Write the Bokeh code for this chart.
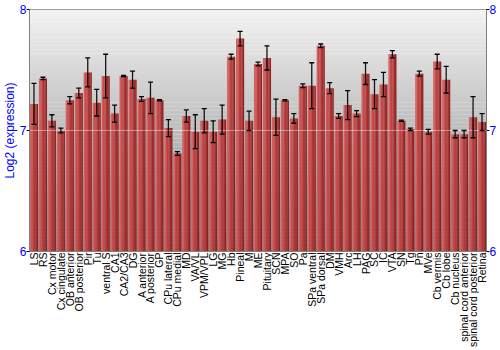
import math
import numpy as np
from bokeh.plotting import figure
from bokeh.models import (ColumnDataSource, Whisker, TeeHead, LinearAxis, Span, FixedTicker,
                          Range1d, Title)
from bokeh.transform import dodge
from bokeh.embed import file_html
from bokeh.resources import INLINE

regions = ["LS", "RS", "Cx motor", "Cx cingulate", "OB anterior", "OB posterior", "Pir", "Tu",
           "ventral S", "CA1", "CA2/CA3", "DG", "A anterior", "A posterior", "GP", "CPu lateral",
           "CPu medial", "MD", "VA/VL", "VPM/VPL", "LG", "MG", "Hb", "Pineal", "M", "ME",
           "Pituitary", "SCN", "MPA", "SO", "Pa", "SPa ventral", "SPa dorsal", "DM", "VMH", "Arc",
           "LH", "PAG", "SC", "IC", "VTA", "SN", "Tg", "Pn", "MVe", "Cb vermis", "Cb lobe",
           "Cb nucleus", "spinal cord anterior", "spinal cord posterior", "Retina"]

means = [7.22, 7.43, 7.08, 7.00, 7.25, 7.31, 7.48, 7.23,
         7.45, 7.14, 7.45, 7.42, 7.26, 7.27, 7.25, 7.02,
         6.81, 7.12, 6.99, 7.08, 6.99, 7.09, 7.61, 7.76, 7.08, 7.55,
         7.60, 7.11, 7.25, 7.10, 7.37, 7.37, 7.70, 7.35, 7.12, 7.21,
         7.14, 7.47, 7.30, 7.38, 7.63, 7.08, 7.01, 7.47, 6.99, 7.57, 7.42,
         6.97, 6.97, 7.11, 7.07]

errors = [0.17, 0.01, 0.05, 0.02, 0.03, 0.04, 0.12, 0.11,
          0.18, 0.07, 0.005, 0.07, 0.02, 0.13, 0.005, 0.07,
          0.015, 0.05, 0.14, 0.10, 0.09, 0.12, 0.02, 0.06, 0.08, 0.015,
          0.10, 0.15, 0.005, 0.04, 0.015, 0.19, 0.015, 0.045, 0.02, 0.12,
          0.025, 0.09, 0.12, 0.10, 0.03, 0.005, 0.01, 0.02, 0.02, 0.06, 0.11,
          0.03, 0.03, 0.17, 0.07]

y_ticks = [6, 7, 8]
y_min, y_max = 6, 8
y_title = "Log2 (expression)"

lower = [m - e for m, e in zip(means, errors)]
upper = [m + e for m, e in zip(means, errors)]
src = ColumnDataSource(dict(region=regions, mean=means, lower=lower, upper=upper))

FONT = "Liberation Sans"
BLUE = "#0000ff"

p = figure(x_range=regions, y_range=Range1d(y_min, y_max), width=500, height=350,
           output_backend="svg", toolbar_location=None,
           min_border_left=20, min_border_right=14, min_border_top=9, min_border_bottom=10)

# background vertical gradient (decoration)
edges = np.linspace(y_min, y_max, 61)
top_c = np.array([0xf3, 0xf3, 0xf3])
bot_c = np.array([0x88, 0x88, 0x88])
cols = []
for i in range(len(edges) - 1):
    t = ((edges[i] + edges[i + 1]) / 2 - y_min) / (y_max - y_min)
    c = (bot_c + (top_c - bot_c) * t).astype(int)
    cols.append("#%02x%02x%02x" % tuple(c))
p.quad(left=0, right=len(regions), bottom=edges[:-1], top=edges[1:] + 0.001,
       fill_color=cols, line_color=None)

# bars with a cylinder-like shading
stripe_cols = ["#d26262", "#c94b4b", "#c04040", "#b43636", "#a42c2c", "#8c2222"]
n = len(stripe_cols)
w = 0.9 / n
for k, c in enumerate(stripe_cols):
    off = -0.45 + w * (k + 0.5)
    p.vbar(x=dodge("region", off, range=p.x_range), top="mean", bottom=y_min,
           width=w + 0.01, source=src, fill_color=c, line_color=None)

grid7 = Span(location=7, dimension="width", line_color="white", line_alpha=0.4, line_width=1)
p.add_layout(grid7)

wh = Whisker(source=src, base="region", upper="upper", lower="lower",
             line_color="black", line_width=1.3, line_alpha=0.9, level="annotation",
             upper_head=TeeHead(size=5, line_color="black", line_width=1.3),
             lower_head=TeeHead(size=5, line_color="black", line_width=1.3))
p.add_layout(wh)

p.xgrid.visible = False
p.ygrid.visible = False
p.outline_line_color = "#808080"

def style_y(ax):
    ax.ticker = FixedTicker(ticks=y_ticks)
    ax.major_label_text_color = BLUE
    ax.major_label_text_font = FONT
    ax.major_label_text_font_size = "12px"
    ax.major_label_standoff = 0
    ax.axis_line_color = "#808080"
    ax.major_tick_line_color = "black"
    ax.major_tick_in = 0
    ax.major_tick_out = 3
    ax.minor_tick_line_color = None

style_y(p.yaxis[0])

ytitle = Title(text=y_title, align="center", text_color=BLUE, text_font=FONT,
               text_font_size="12px", text_font_style="normal", standoff=0, offset=0)
p.add_layout(ytitle, "left")

rax = LinearAxis()
style_y(rax)
p.add_layout(rax, "right")

p.xaxis.major_label_orientation = math.pi / 2
p.xaxis.major_label_text_font = FONT
p.xaxis.major_label_text_font_size = "10.5px"
p.xaxis.major_label_text_color = "black"
p.xaxis.major_label_standoff = 1
p.xaxis.major_tick_line_color = None
p.xaxis.major_tick_out = 0
p.xaxis.axis_line_color = "#808080"

open("out.html", "w").write(file_html(p, INLINE))
